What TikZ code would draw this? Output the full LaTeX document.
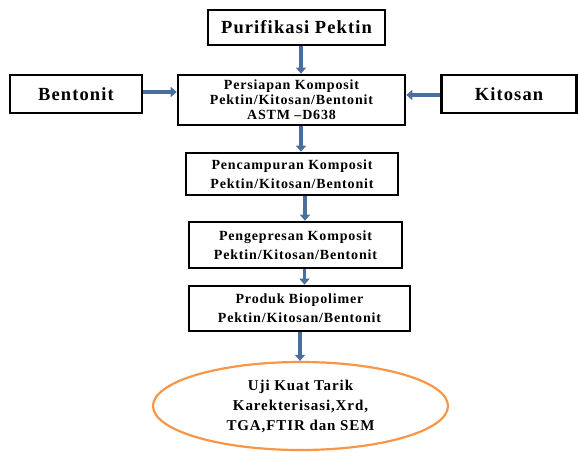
\documentclass[tikz,border=0pt]{standalone}
\usepackage{fontspec}
\setmainfont{Liberation Serif}
\newfontfamily\boxfont[LetterSpace=6]{Liberation Serif}
\usepackage{tikz}
\usetikzlibrary{positioning, arrows.meta, shapes.geometric}

\definecolor{arrowblue}{RGB}{74,111,156}
\definecolor{ovalorange}{RGB}{247,150,70}

\begin{document}
\begin{tikzpicture}[
        x=1pt, y=-1pt,
        step box/.style={rectangle, draw=black, line width=2.6pt, fill=white, align=center, inner sep=0pt},
        big text/.style={font=\boxfont\fontsize{18.5}{19}\selectfont\bfseries},
        small text/.style={font=\boxfont\fontsize{14}{19}\selectfont\bfseries},
        flow/.style={-{Triangle[length=6pt, width=10pt]}, draw=arrowblue, line width=3.2pt},
        result/.style={ellipse, draw=ovalorange, line width=2.2pt, align=center, inner sep=0pt}
      ]
        \useasboundingbox (0,0) rectangle (578,452);

        % Main column
        \node[step box, big text, minimum width=177pt, minimum height=35pt] (purifikasi) at (296.5,27.5)
          {Purifikasi Pektin};

        \node[step box, font=\boxfont\fontsize{14}{15}\selectfont\bfseries,
              minimum width=227pt, minimum height=50pt] (persiapan) at (291.5,100)
          {Persiapan Komposit\\ Pektin/Kitosan/Bentonit\\ ASTM –D638};

        \node[step box, small text, minimum width=212pt, minimum height=42pt] (pencampuran) at (292,174)
          {Pencampuran Komposit\\ Pektin/Kitosan/Bentonit};

        \node[step box, small text, minimum width=213pt, minimum height=46pt] (pengepresan) at (295.5,245)
          {Pengepresan Komposit\\ Pektin/Kitosan/Bentonit};

        \node[step box, small text, minimum width=221pt, minimum height=45pt] (produk) at (299.5,308.5)
          {Produk Biopolimer\\ Pektin/Kitosan/Bentonit};

        \node[result, font=\boxfont\fontsize{15}{20}\selectfont\bfseries,
              minimum width=295pt, minimum height=88pt] (uji) at (300.5,406)
          {Uji Kuat Tarik\\ Karekterisasi,Xrd,\\ TGA,FTIR dan SEM};

        % Side inputs
        \node[step box, big text, minimum width=132pt, minimum height=38pt] (bentonit) at (76,94)
          {Bentonit};

        \node[step box, big text, minimum width=135pt, minimum height=38pt] (kitosan) at (509,94)
          {Kitosan};

        % Arrows
        \draw[flow] ([xshift=4.5pt]purifikasi.south) -- ([xshift=4.5pt]purifikasi.south |- persiapan.north);
        \draw[flow] ([xshift=9.5pt]persiapan.south) -- ([xshift=9.5pt]persiapan.south |- pencampuran.north);
        \draw[flow] ([xshift=13pt]pencampuran.south) -- ([xshift=13pt]pencampuran.south |- pengepresan.north);
        \draw[flow] ([xshift=9pt]pengepresan.south) -- ([xshift=9pt]pengepresan.south |- produk.north);
        \draw[flow] ([xshift=0.5pt]produk.south) -- ([xshift=0.5pt]produk.south |- uji.north);
        \draw[flow] ([yshift=2pt]bentonit.east) -- ([yshift=2pt]bentonit.east -| persiapan.west);
        \draw[flow] ([yshift=-1pt]kitosan.west) -- ([yshift=-1pt]kitosan.west -| persiapan.east);
      \end{tikzpicture}
\end{document}
